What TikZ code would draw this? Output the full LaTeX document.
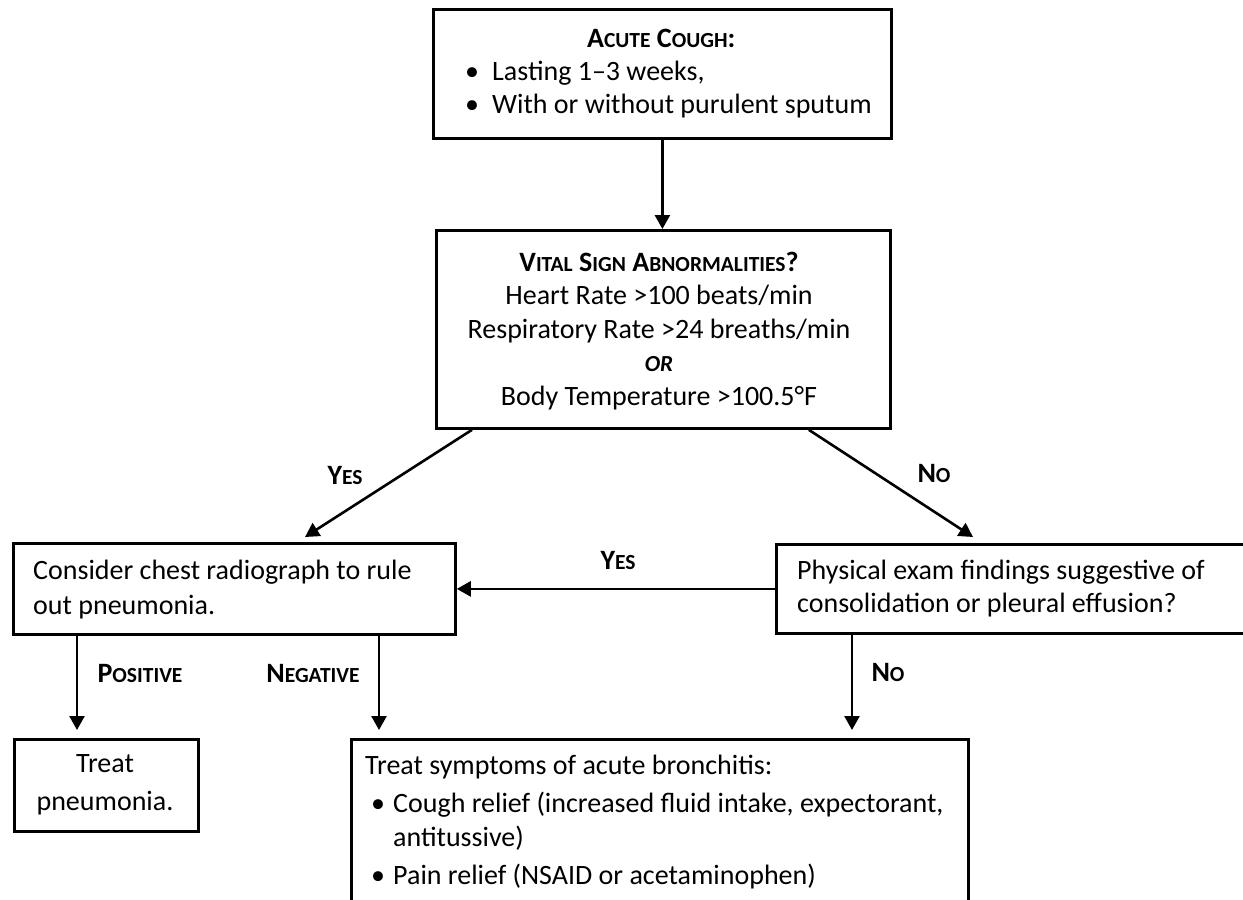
\documentclass[tikz,border=0pt]{standalone}
\usepackage{fontspec}
\setmainfont{Carlito}
\usetikzlibrary{arrows.meta}
\newcommand{\bodyfont}{\fontsize{28}{34}\selectfont}
\newcommand{\tsc}[1]{{\fontsize{21.5}{21.5}\selectfont #1}}
\newcommand{\bul}{\makebox[22pt][l]{•}}
\begin{document}
\begin{tikzpicture}[x=1pt,y=-1pt,
  box/.style={draw=black, line width=2.8pt, inner sep=0pt, anchor=north west},
  txt/.style={inner sep=0pt, font=\bodyfont},
  lab/.style={inner sep=0pt, font=\fontsize{28}{28}\selectfont\bfseries},
  arr/.style={draw=black, line width=2.6pt, -{Triangle[length=14pt,width=15pt]}}]
\useasboundingbox (0,0) rectangle (1243,900);
\fill[white] (0,0) rectangle (1243,900);
\clip (0,0) rectangle (1243,900);

% boxes
\node[box, minimum width=458pt, minimum height=129pt] (cough) at (432,8) {};
\node[box, minimum width=454pt, minimum height=198pt] (vital) at (435,229) {};
\node[box, minimum width=442pt, minimum height=91pt] (chest) at (12,542) {};
\node[box, minimum width=490pt, minimum height=89pt] (exam) at (775,543) {};
\node[box, minimum width=184pt, minimum height=92pt] (pneu) at (13,738) {};
\node[box, minimum width=617pt, minimum height=200pt] (bronch) at (350,738) {};

% texts
\node[txt, align=left, anchor=west, font=\fontsize{28}{33}\selectfont] (coughtxt) at (465,74) {%
  \makebox[392pt][c]{\textbf{A\tsc{CUTE} C\tsc{OUGH}:}}\\
  \makebox[27pt][l]{•}Lasting 1–3 weeks,\\
  \makebox[27pt][l]{•}With or without purulent sputum};
\node[txt, align=center, font=\fontsize{28}{33.5}\selectfont] (vitaltxt) at (659,331) {%
  \textbf{V\tsc{ITAL} S\tsc{IGN} A\tsc{BNORMALITIES}?}\\
  Heart Rate >100 beats/min\\
  Respiratory Rate >24 breaths/min\\
  {\fontsize{23}{23}\selectfont\bfseries\itshape OR}\\
  Body Temperature >100.5°F};
\node[txt, align=left, anchor=west, font=\fontsize{28}{35}\selectfont] (chesttxt) at (33,590) {%
  Consider chest radiograph to rule\\ out pneumonia.};
\node[txt, align=left, anchor=west, font=\fontsize{28}{33}\selectfont] (examtxt) at (797,589) {%
  Physical exam findings suggestive of\\ consolidation or pleural effusion?};
\node[txt, align=center, font=\fontsize{28}{38}\selectfont] (pneutxt) at (105,785) {%
  Treat\\ pneumonia.};
\node[txt, align=left, anchor=west] (bronchtxt) at (365,822) {%
  Treat symptoms of acute bronchitis:\\[4pt]
  \hspace*{6pt}\bul Cough relief (increased fluid intake, expectorant,\\
  \hspace*{28pt}antitussive)\\[4pt]
  \hspace*{6pt}\bul Pain relief (NSAID or acetaminophen)};

% connectors
\draw[arr] (cough.south) -- (cough.south |- vital.north);
\draw[arr] ([xshift=37pt]vital.south west) -- ([xshift=293pt,yshift=5pt]chest.north west);
\draw[arr] ([xshift=-83pt]vital.south east) -- ([xshift=198pt,yshift=6pt]exam.north west);
\draw[arr] (exam.west) -- (chest.east);
\draw[arr] ([xshift=65pt]chest.south west) -- ([xshift=64pt,yshift=8pt]pneu.north west);
\draw[arr] ([xshift=367pt]chest.south west) -- ([xshift=29pt,yshift=8pt]bronch.north west);
\draw[arr] ([xshift=77pt]exam.south west) -- ([xshift=502pt,yshift=8pt]bronch.north west);

% labels
\node[lab] (l1) at (345,475) {Y\tsc{ES}};
\node[lab] (l2) at (934,473) {N\tsc{O}};
\node[lab] (l3) at (618,560) {Y\tsc{ES}};
\node[lab] (l4) at (140,673) {P\tsc{OSITIVE}};
\node[lab] (l5) at (313,673) {N\tsc{EGATIVE}};
\node[lab] (l6) at (888,672) {N\tsc{O}};
\end{tikzpicture}
\end{document}
